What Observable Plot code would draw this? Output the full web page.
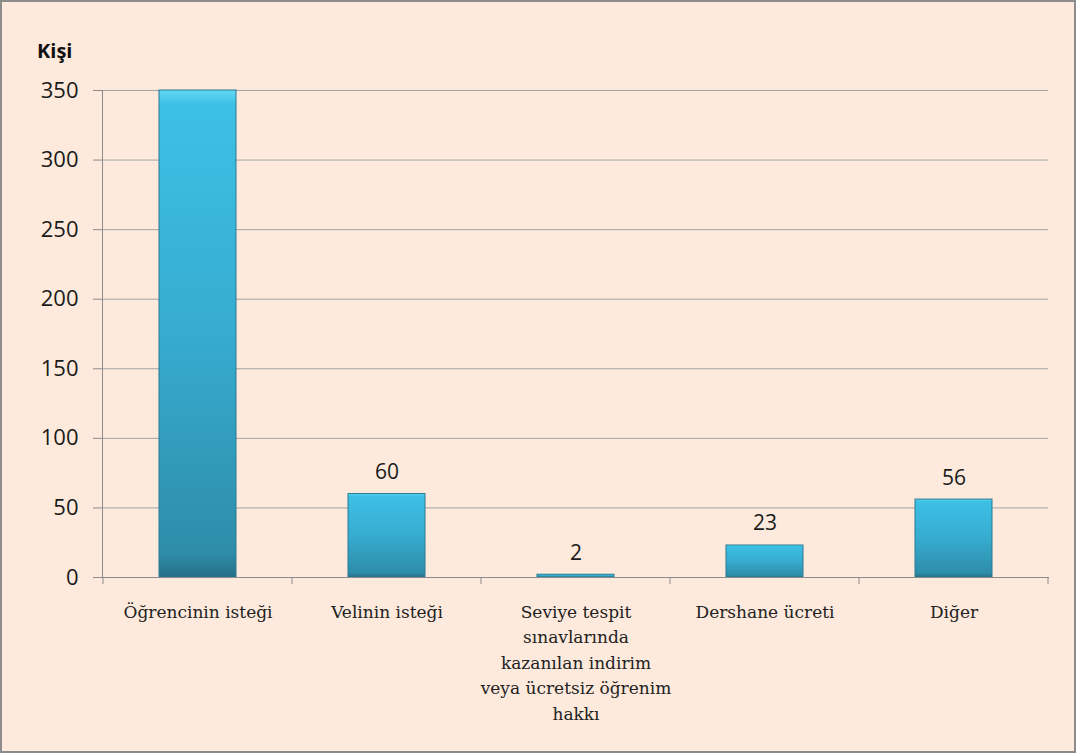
<!DOCTYPE html>
<html><head><meta charset="utf-8">
<script src="https://cdn.jsdelivr.net/npm/d3@7"></script>
<script src="https://cdn.jsdelivr.net/npm/@observablehq/plot@0.6"></script>
<style>
body{margin:0;background:#fff;}
#wrap{position:relative;width:1076px;height:753px;background:#FDEADC;overflow:hidden}
#wrap svg{position:absolute;left:0;top:0}
#border{position:absolute;left:0;top:0;width:1076px;height:753px;box-sizing:border-box;border:2px solid #8C8C8C;pointer-events:none}
#ylabel{position:absolute;left:37px;top:37px;font:bold 20px 'Open Sans';color:#111}
</style></head><body>
<div id="wrap"><div id="ylabel">Kişi</div><div id="border"></div></div>
<script>
const categories = ["Öğrencinin isteği", "Velinin isteği", "Seviye tespit sınavlarında kazanılan indirim veya ücretsiz öğrenim hakkı", "Dershane ücreti", "Diğer"];
const tickLabels = ["Öğrencinin isteği", "Velinin isteği", "Seviye tespit\nsınavlarında\nkazanılan indirim\nveya ücretsiz öğrenim\nhakkı", "Dershane ücreti", "Diğer"];
const values = [350, 60, 2, 23, 56];
const yTicks = [0, 50, 100, 150, 200, 250, 300, 350];

const data = categories.map((c, i) => ({cat: c, value: values[i]}));
const yMax = 350;

const plot = Plot.plot({
  width: 1076, height: 753,
  marginLeft: 102, marginRight: 28, marginTop: 90, marginBottom: 176,
  style: {background: "transparent", fontFamily: "Open Sans", overflow: "visible"},
  x: {domain: categories, paddingInner: 0.593, paddingOuter: 0.2965, axis: null, label: null},
  y: {domain: [0, yMax], axis: null, label: null},
  marks: [
    Plot.gridY(yTicks, {stroke: "#A3A3A3", strokeOpacity: 1}),
    Plot.axisY(yTicks, {tickSize: 9, tickPadding: 15, fontSize: 22, stroke: "#8C8C8C", fill: "#1a1a1a", label: null}),
    Plot.barY(data, {x: "cat", y: "value", fill: "url(#barGrad)", stroke: "#2A7A92", strokeWidth: 1}),
    Plot.text(data.filter(d => d.value < yMax), {x: "cat", y: "value", text: d => String(d.value), dy: -15, lineAnchor: "bottom", fontSize: 21, fill: "#1a1a1a"}),
    Plot.axisX({tickSize: 0, tickPadding: 22, fontSize: 17, fontFamily: "DejaVu Serif", fontWeight: 300, lineHeight: 1.5, fill: "#222", tickFormat: (d) => tickLabels[categories.indexOf(d)], label: null}),
    Plot.frame({anchor: "left", stroke: "#8C8C8C"}),
    Plot.frame({anchor: "bottom", stroke: "#8C8C8C"})
  ]
});

const svg = d3.select(plot);
const defs = svg.insert("defs", ":first-child");
const g = defs.append("linearGradient").attr("id", "barGrad").attr("x1", 0).attr("y1", 0).attr("x2", 0).attr("y2", 1);
[[0, "#63D8F4"], [0.03, "#3DC0E5"], [0.5, "#36ACD0"], [0.95, "#2E8DA9"], [1, "#276F86"]].forEach(([o, c]) =>
  g.append("stop").attr("offset", o).attr("stop-color", c));

// category boundary ticks along the x axis
const xs = plot.scale("x");
const ys = plot.scale("y");
const y0 = ys.apply(0);
const gap = (xs.step - xs.bandwidth) / 2;
const bounds = categories.map(c => xs.apply(c) - gap);
bounds.push(xs.apply(categories[categories.length - 1]) + xs.bandwidth + gap);
svg.append("g").selectAll("line").data(bounds).join("line")
  .attr("x1", d => d).attr("x2", d => d).attr("y1", y0).attr("y2", y0 + 7)
  .attr("stroke", "#8C8C8C");

document.getElementById("wrap").insertBefore(plot, document.getElementById("border"));
</script>
</body></html>
